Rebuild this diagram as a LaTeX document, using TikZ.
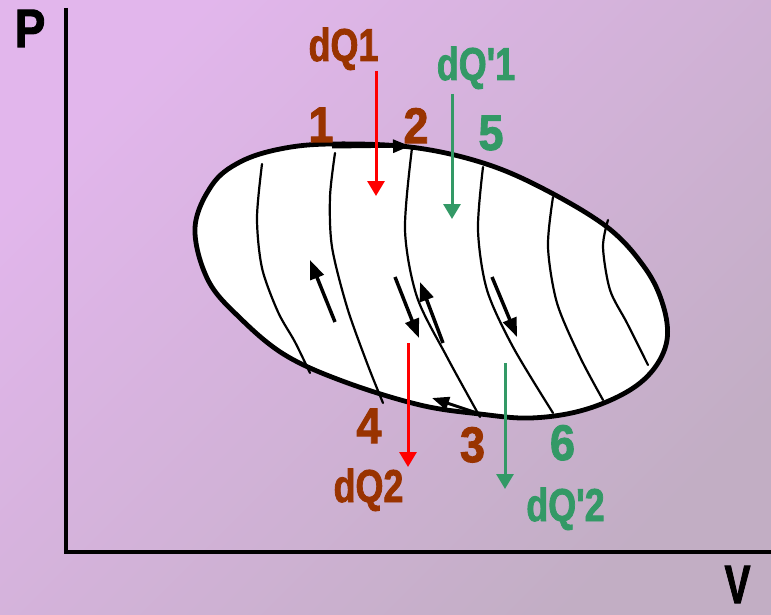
\documentclass[tikz,border=0pt]{standalone}
\usepackage{fontspec}
\usepackage{graphicx}
\setmainfont{Liberation Sans}
\newfontfamily\heavy{Liberation Sans Bold}[FakeBold=2]
\usetikzlibrary{arrows.meta}
\definecolor{brn}{RGB}{153,51,0}
\definecolor{grn}{RGB}{51,153,102}
\definecolor{bgA}{RGB}{226,182,236}
\definecolor{bgB}{RGB}{194,174,196}
\newcommand{\apos}{{\char"27}}
\tikzset{
  lbl/.style={inner sep=0pt, anchor=base, font=\heavy\fontsize{46}{46}\selectfont},
  num/.style={inner sep=0pt, anchor=base, font=\heavy\fontsize{50}{50}\selectfont},
  axis/.style={line width=4pt},
  curve/.style={line width=2.2pt, line cap=round},
  flow/.style={line width=3.5pt, -{Triangle[length=19pt,width=14pt]}},
  edgearrow/.style={line width=3pt, -{Triangle[length=17pt,width=13pt]}},
  heat/.style={line width=3pt, -{Triangle[length=15pt,width=17pt]}},
}
\begin{document}
\begin{tikzpicture}[x=1pt,y=-1pt]
\useasboundingbox (0,0) rectangle (771,615);
\shade[top color=bgA, bottom color=bgB, shading angle=45] (0,0) rectangle (771,615);

% axes
\coordinate (ytop) at (66,8);
\coordinate (orig) at (66,552);
\coordinate (xend) at (771,552);
\draw[axis] (ytop) -- (orig) -- (xend);
\node[inner sep=0pt, anchor=base, font=\heavy\fontsize{54}{54}\selectfont] (P) at (30,47) {\scalebox{0.85}[1]{P}};
\node[inner sep=0pt, anchor=base, font=\heavy\fontsize{54}{54}\selectfont] (V) at (737.5,603) {\scalebox{0.72}[1]{V}};

% cycle
\draw[line width=4.8pt, fill=white] plot[smooth cycle, tension=0.6] coordinates {
(195,228) (212,185) (240,162) (280,149) (330,144) (410,147) (480,162) (540,187)
(607,227) (645,268) (663,305) (667,340) (653,370) (625,393) (580,411) (530,418)
(480,414) (420,405) (345,382) (285,355) (240,318) (208,280)};

% interior curves
\draw[curve] plot[smooth] coordinates {(262,164) (257,218) (262,268) (278,312) (295,342) (310,373)};
\draw[curve] plot[smooth] coordinates {(335,153) (330,197) (332,247) (347,307) (367,363) (383,403)};
\draw[curve] plot[smooth] coordinates {(412,148) (405,230) (417,297) (447,357) (480,417)};
\draw[curve] plot[smooth] coordinates {(483,167) (478,230) (487,290) (513,347) (553,413)};
\draw[curve] plot[smooth] coordinates {(553,197) (548,247) (557,303) (580,357) (603,400)};
\draw[curve] plot[smooth] coordinates {(608,220) (603,247) (610,290) (627,323) (648,365)};

% flow arrows
\coordinate (a1s) at (335,322); \coordinate (a1e) at (310,260);
\coordinate (a2s) at (395,277); \coordinate (a2e) at (419,338);
\coordinate (a3s) at (443,343); \coordinate (a3e) at (420,282);
\coordinate (a4s) at (492,277); \coordinate (a4e) at (517,337);
\draw[flow] (a1s) -- (a1e);
\draw[flow] (a2s) -- (a2e);
\draw[flow] (a3s) -- (a3e);
\draw[flow] (a4s) -- (a4e);
\coordinate (t1) at (332,147); \coordinate (t2) at (410,146);
\coordinate (b1) at (480,414); \coordinate (b2) at (432,398);
\draw[edgearrow] (t1) -- (t2);
\draw[edgearrow] (b1) -- (b2);

% heat arrows
\coordinate (h1s) at (376,71);  \coordinate (h1e) at (376,196);
\coordinate (h2s) at (452,94);  \coordinate (h2e) at (452,219);
\coordinate (h3s) at (408,343); \coordinate (h3e) at (408,467);
\coordinate (h4s) at (505,363); \coordinate (h4e) at (505,489);
\draw[heat, red] (h1s) -- (h1e);
\draw[heat, grn] (h2s) -- (h2e);
\draw[heat, red] (h3s) -- (h3e);
\draw[heat, grn] (h4s) -- (h4e);

% labels
\node[lbl, text=brn] (dQ1) at (343.5,61) {\scalebox{0.78}[1]{dQ1}};
\node[lbl, text=grn] (dQp1) at (476,80) {\scalebox{0.78}[1]{dQ\apos1}};
\node[lbl, text=brn] (dQ2) at (368.5,502) {\scalebox{0.78}[1]{dQ2}};
\node[lbl, text=grn] (dQp2) at (565.5,521) {\scalebox{0.78}[1]{dQ\apos2}};
\node[num, text=brn] (n1) at (321,142) {\scalebox{0.9}[1]{1}};
\node[num, text=brn] (n2) at (416,143) {\scalebox{0.9}[1]{2}};
\node[num, text=grn] (n5) at (491,150) {\scalebox{0.9}[1]{5}};
\node[num, text=brn] (n4) at (369,443) {\scalebox{0.9}[1]{4}};
\node[num, text=brn] (n3) at (472.5,462) {\scalebox{0.9}[1]{3}};
\node[num, text=grn] (n6) at (562.5,460) {\scalebox{0.9}[1]{6}};
\end{tikzpicture}
\end{document}
